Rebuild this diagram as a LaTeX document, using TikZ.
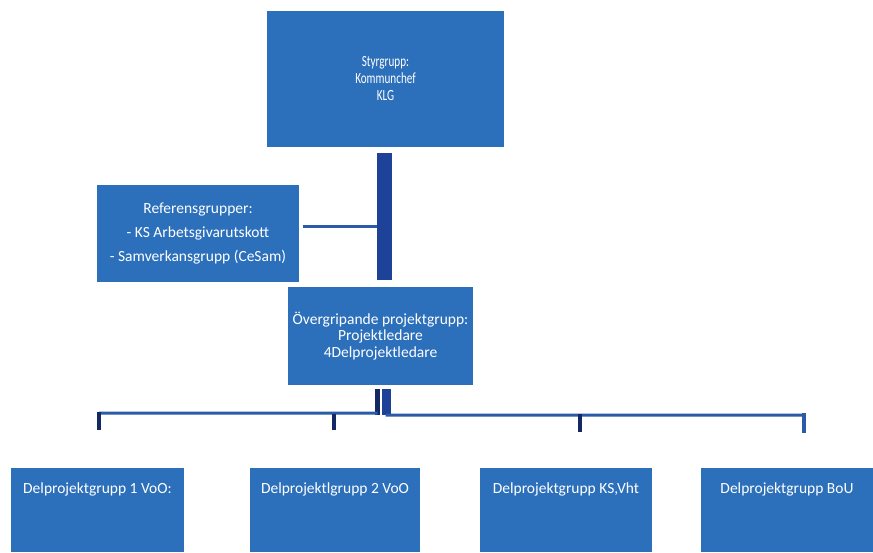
\documentclass[tikz,border=0pt]{standalone}
\usepackage{fontspec}
\setmainfont{Carlito}
\newfontfamily\narrowcal[FakeStretch=0.72]{Carlito}
\usetikzlibrary{calc}
\definecolor{boxblue}{RGB}{44,112,188}
\definecolor{barblue}{RGB}{30,66,152}
\definecolor{lineblue}{RGB}{42,90,168}
\definecolor{navy}{RGB}{20,40,100}
\tikzset{
  orgbox/.style={fill=boxblue, draw=none, text=white, align=center, inner sep=0pt},
  leafbox/.style={orgbox, minimum width=#1, text height=25pt, text depth=59pt,
    font=\fontsize{15.5}{18}\selectfont},
  thickbar/.style={draw=barblue, line width=15pt},
  conn/.style={draw=lineblue, line width=3pt},
  drop/.style={draw=navy, line width=4pt},
}
\begin{document}
\begin{tikzpicture}[x=1pt,y=-1pt]
\useasboundingbox (0,0) rectangle (873,552);
% boxes
\node[orgbox, minimum width=237pt, minimum height=136pt,
  font=\narrowcal\fontsize{15.5}{17}\selectfont] (top) at (385.5,79)
  {Styrgrupp:\\Kommunchef\\KLG};
\node[orgbox, minimum width=202pt, minimum height=97pt,
  font=\fontsize{15.5}{24}\selectfont] (ref) at (198,233.5)
  {Referensgrupper:\\- KS Arbetsgivarutskott\\- Samverkansgrupp (CeSam)};
\node[orgbox, minimum width=185pt, minimum height=98pt,
  font=\fontsize{15.5}{16.5}\selectfont] (mid) at (380.5,336)
  {Övergripande projektgrupp:\\Projektledare\\4Delprojektledare};
\node[leafbox=173pt, anchor=north] (b1) at (97.5,468) {Delprojektgrupp 1 VoO:};
\node[leafbox=170pt, anchor=north] (b2) at (335,468) {Delprojektlgrupp 2 VoO};
\node[leafbox=172pt, anchor=north] (b3) at (566,468) {Delprojektgrupp KS,Vht};
\node[leafbox=172pt, anchor=north] (b4) at (787,468) {Delprojektgrupp BoU};
% trunk between top and middle
\draw[thickbar] ($(top.south)+(-1.5,6)$) -- ($(top.south |- mid.north)+(-1.5,-7)$);
% reference connector
\draw[conn] ($(ref.east)+(4,-7.5)$) -- ($(ref.east -| top.south)+(-9,-7.5)$);
% stubs below middle box
\draw[draw=navy, line width=5pt] ($(mid.south)+(-3,4)$) -- ($(mid.south)+(-3,30)$);
\draw[draw=barblue, line width=9pt] ($(mid.south)+(6,4)$) -- ($(mid.south)+(6,30)$);
% horizontal distribution line
\coordinate (h1) at ($(b1.north)+(1.5,-55)$);
\coordinate (h4) at ($(b4.north)+(17,-53)$);
\draw[conn] (h1) -- ($(mid.south)+(-3,28)$);
\draw[conn] ($(mid.south)+(5,30)$) -- (h4);
% drops
\draw[drop] ($(b1.north)+(1.5,-56)$) -- ($(b1.north)+(1.5,-38)$);
\draw[drop] ($(b2.north)+(-1,-54)$) -- ($(b2.north)+(-1,-38)$);
\draw[drop] ($(b3.north)+(14,-54)$) -- ($(b3.north)+(14,-36)$);
\draw[drop, draw=lineblue] ($(b4.north)+(17,-55)$) -- ($(b4.north)+(17,-35)$);
\end{tikzpicture}
\end{document}
